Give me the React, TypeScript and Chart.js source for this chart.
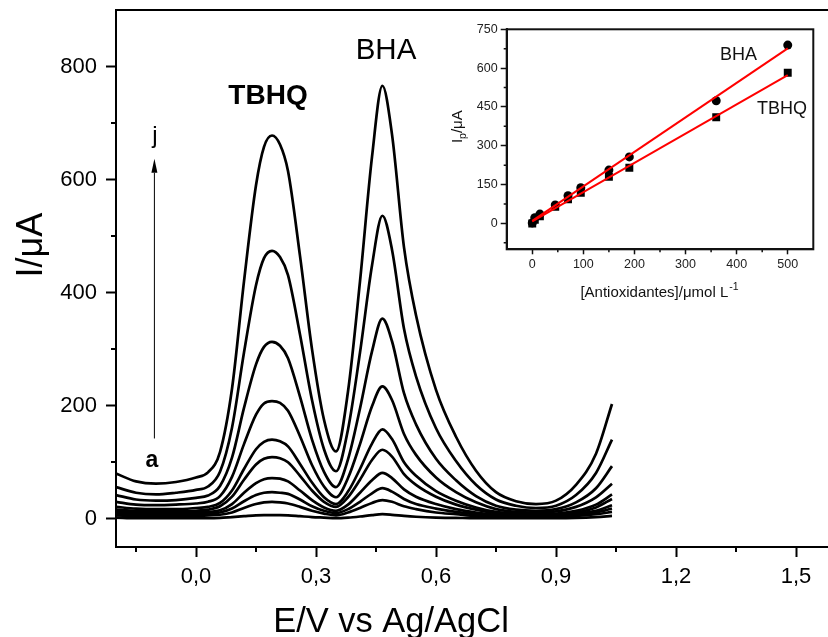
import React, { useEffect, useRef } from 'react';
import { Chart, registerables } from 'chart.js';

Chart.register(...registerables);

// ---------- main voltammograms ----------
const potential = [-0.2, -0.15, -0.1, -0.05, 0, 0.03, 0.06, 0.09, 0.12, 0.15, 0.17, 0.19, 0.21, 0.23, 0.26, 0.29, 0.32, 0.35, 0.38, 0.41, 0.44, 0.466, 0.49, 0.52, 0.55, 0.6, 0.65, 0.7, 0.75, 0.8, 0.85, 0.9, 0.95, 1.0, 1.04];

const curveA = [2, 1, 1, 1, 1, 1, 1.5, 3, 4.5, 6, 6.5, 6.5, 6.5, 6, 4.5, 3, 2, 1, 2, 4, 6.5, 8, 7, 5, 3.5, 2, 1.5, 1, 1, 1, 1, 1, 1.5, 3, 5];
const curveB = [6, 5, 5, 5, 5, 6, 7, 11, 19, 26, 29, 30, 29, 27, 21, 14, 9, 6, 11, 19, 28, 33, 30, 22, 17, 11, 8, 5, 4, 3, 3, 4, 5, 8, 12];
const curveC = [9, 8, 7, 7, 8, 9, 11, 18, 31, 42, 46, 47, 46, 44, 34, 22, 14, 10, 17, 30, 45, 54, 48, 35, 26, 18, 12, 8, 5, 4, 4, 5, 7, 11, 18];
const curveD = [12, 11, 10, 10, 11, 12, 15, 26, 46, 63, 70, 72, 71, 66, 50, 33, 20, 14, 25, 46, 68, 81, 72, 52, 39, 26, 17, 11, 7, 5, 5, 6, 9, 14, 24];
const curveE = [16, 14, 13, 13, 14, 16, 22, 39, 69, 96, 106, 109, 107, 100, 76, 50, 30, 21, 38, 69, 104, 122, 110, 79, 60, 39, 25, 16, 10, 7, 6, 7, 11, 20, 35];
const curveF = [21, 18, 17, 17, 19, 21, 28, 50, 88, 123, 136, 140, 137, 128, 97, 64, 38, 26, 48, 88, 133, 158, 141, 100, 76, 49, 32, 20, 12, 9, 8, 9, 14, 25, 43];
const curveG = [30, 25, 24, 25, 27, 30, 40, 74, 132, 184, 204, 208, 205, 191, 146, 95, 57, 38, 72, 132, 199, 234, 210, 150, 113, 73, 47, 29, 17, 12, 11, 13, 21, 38, 62];
const curveH = [42, 34, 32, 33, 37, 41, 58, 108, 196, 273, 304, 313, 306, 284, 216, 140, 83, 56, 105, 195, 296, 354, 314, 222, 167, 106, 68, 40, 23, 16, 14, 17, 29, 54, 93];
const curveI = [56, 46, 43, 46, 51, 57, 83, 161, 294, 413, 461, 474, 463, 431, 326, 210, 123, 84, 158, 294, 448, 536, 476, 336, 252, 160, 102, 60, 34, 23, 19, 23, 42, 81, 140];
const curveJ = [80, 66, 62, 65, 73, 82, 118, 230, 420, 590, 658, 678, 662, 615, 465, 300, 175, 119, 225, 420, 640, 766, 680, 480, 360, 228, 145, 85, 47, 31, 26, 32, 60, 115, 203];

const curves = [curveA, curveB, curveC, curveD, curveE, curveF, curveG, curveH, curveI, curveJ];

const xTicks = [0, 0.3, 0.6, 0.9, 1.2, 1.5];
const xMinorTicks = [-0.15, 0.15, 0.45, 0.75, 1.05, 1.35];
const yTicks = [0, 200, 400, 600, 800];
const yMinorTicks = [100, 300, 500, 700];

// ---------- inset calibration ----------
const concentration = [0, 5, 15, 45, 70, 95, 150, 190, 360, 500];
const bhaPeak = [2, 22, 36, 71, 107, 138, 206, 257, 474, 689];
const tbhqPeak = [0, 14, 28, 64, 93, 118, 180, 215, 410, 582];
const fitConcentration = [0, 500];
const bhaFit = [10, 676];
const tbhqFit = [8, 573];

const insetXTicks = [0, 100, 200, 300, 400, 500];
const insetXMinor = [50, 150, 250, 350, 450];
const insetYTicks = [0, 150, 300, 450, 600, 750];
const insetYMinor = [-75, 75, 225, 375, 525, 675];

const FONT = "'Liberation Sans', Arial, Helvetica, sans-serif";

const fmtComma = (v: number) => v.toFixed(1).replace('.', ',');

const noPadX = (h: number) => (s: any) => {
  s.height = h;
  s.paddingLeft = 0;
  s.paddingRight = 0;
  s.paddingTop = 0;
  s.paddingBottom = 0;
};
const noPadY = (w: number) => (s: any) => {
  s.width = w;
  s.paddingLeft = 0;
  s.paddingRight = 0;
  s.paddingTop = 0;
  s.paddingBottom = 0;
};

const mainDecor = {
  id: 'mainDecor',
  afterDraw(chart: any) {
    const { ctx, chartArea: a } = chart;
    const x = chart.scales.x;
    const y = chart.scales.y;
    ctx.save();
    ctx.strokeStyle = '#000';
    ctx.fillStyle = '#000';
    ctx.lineWidth = 2;
    // top frame line
    ctx.beginPath();
    ctx.moveTo(a.left - 1, a.top);
    ctx.lineTo(a.right, a.top);
    ctx.stroke();
    // minor ticks
    ctx.beginPath();
    xMinorTicks.forEach((v) => {
      const px = Math.round(x.getPixelForValue(v));
      ctx.moveTo(px, a.bottom);
      ctx.lineTo(px, a.bottom + 5);
    });
    yMinorTicks.forEach((v) => {
      const py = Math.round(y.getPixelForValue(v));
      ctx.moveTo(a.left, py);
      ctx.lineTo(a.left - 5, py);
    });
    ctx.stroke();

    // arrow a -> j
    const ax = x.getPixelForValue(-0.104);
    const yStart = y.getPixelForValue(142);
    const yTip = y.getPixelForValue(637);
    const yHead = y.getPixelForValue(612);
    ctx.lineWidth = 1;
    ctx.beginPath();
    ctx.moveTo(ax, yStart);
    ctx.lineTo(ax, yHead);
    ctx.stroke();
    ctx.beginPath();
    ctx.moveTo(ax, yTip);
    ctx.lineTo(ax - 3, yHead);
    ctx.lineTo(ax + 3, yHead);
    ctx.closePath();
    ctx.fill();

    ctx.textBaseline = 'alphabetic';
    ctx.textAlign = 'center';
    ctx.font = `bold 28px ${FONT}`;
    ctx.fillText('TBHQ', x.getPixelForValue(0.18), y.getPixelForValue(734));
    ctx.font = `29.5px ${FONT}`;
    ctx.fillText('BHA', x.getPixelForValue(0.475), y.getPixelForValue(814));
    ctx.font = `24px ${FONT}`;
    ctx.fillText('j', x.getPixelForValue(-0.1025), y.getPixelForValue(664));
    ctx.font = `bold 23px ${FONT}`;
    ctx.fillText('a', x.getPixelForValue(-0.11), y.getPixelForValue(91));

    // axis titles
    ctx.font = `35px ${FONT}`;
    ctx.save();
    ctx.translate(391, 632);
    ctx.scale(0.985, 1);
    ctx.fillText('E/V vs Ag/AgCl', 0, 0);
    ctx.restore();
    ctx.save();
    ctx.translate(42, 245);
    ctx.rotate(-Math.PI / 2);
    ctx.font = `36px ${FONT}`;
    ctx.fillText('I/\u03bcA', 0, 0);
    ctx.restore();
    ctx.restore();
  },
};

const insetDecor = {
  id: 'insetDecor',
  afterDraw(chart: any) {
    const { ctx, chartArea: a } = chart;
    const x = chart.scales.x;
    const y = chart.scales.y;
    ctx.save();
    ctx.strokeStyle = '#111';
    ctx.fillStyle = '#111';
    ctx.lineWidth = 2;
    ctx.strokeRect(a.left, a.top, a.right - a.left, a.bottom - a.top);
    ctx.lineWidth = 1.5;
    ctx.beginPath();
    insetXMinor.forEach((v) => {
      const px = x.getPixelForValue(v);
      ctx.moveTo(px, a.bottom);
      ctx.lineTo(px, a.bottom + 3);
    });
    insetYMinor.forEach((v) => {
      const py = y.getPixelForValue(v);
      ctx.moveTo(a.left, py);
      ctx.lineTo(a.left - 3, py);
    });
    ctx.stroke();

    ctx.textBaseline = 'alphabetic';
    ctx.textAlign = 'left';
    ctx.font = `18px ${FONT}`;
    ctx.fillText('BHA', 280, 45);
    ctx.fillText('TBHQ', 317, 98.5);

    // x title
    const main = '[Antioxidantes]/\u03bcmol L';
    ctx.font = `15px ${FONT}`;
    const w1 = ctx.measureText(main).width;
    ctx.font = `10.5px ${FONT}`;
    const w2 = ctx.measureText('-1').width;
    const startX = 219 - (w1 + w2) / 2;
    ctx.font = `15px ${FONT}`;
    ctx.fillText(main, startX, 281.7);
    ctx.font = `10.5px ${FONT}`;
    ctx.fillText('-1', startX + w1 + 1, 275);

    // y title (rotated)
    ctx.save();
    ctx.translate(22, 111.7);
    ctx.rotate(-Math.PI / 2);
    ctx.font = `15px ${FONT}`;
    const wI = ctx.measureText('I').width;
    const wRest = ctx.measureText('/\u03bcA').width;
    ctx.font = `10.5px ${FONT}`;
    const wp = ctx.measureText('p').width;
    const sx = -(wI + wp + wRest) / 2;
    ctx.font = `15px ${FONT}`;
    ctx.fillText('I', sx, 0);
    ctx.font = `10.5px ${FONT}`;
    ctx.fillText('p', sx + wI, 4);
    ctx.font = `15px ${FONT}`;
    ctx.fillText('/\u03bcA', sx + wI + wp, 0);
    ctx.restore();
    ctx.restore();
  },
};

export default function App() {
  const mainRef = useRef<HTMLCanvasElement>(null);
  const insetRef = useRef<HTMLCanvasElement>(null);

  useEffect(() => {
    const datasets = curves.map((c) => ({
      data: potential.map((p, i) => ({ x: p, y: c[i] })),
      showLine: true,
      borderColor: '#000',
      borderWidth: 2.7,
      pointRadius: 0,
      cubicInterpolationMode: 'monotone' as const,
      fill: false,
    }));

    const mainChart = new Chart(mainRef.current!, {
      type: 'scatter',
      data: { datasets },
      options: {
        responsive: false,
        animation: false,
        devicePixelRatio: 1,
        layout: { padding: { top: 10, right: 0, left: 0, bottom: 0 } },
        plugins: { legend: { display: false }, tooltip: { enabled: false } },
        scales: {
          x: {
            type: 'linear',
            min: -0.2,
            max: 1.58,
            afterFit: noPadX(90),
            afterBuildTicks: (s: any) => { s.ticks = xTicks.map((v) => ({ value: v })); },
            border: { display: true, color: '#000', width: 2 },
            grid: { display: true, drawOnChartArea: false, drawTicks: true, tickLength: 10, tickWidth: 2, tickColor: '#000' },
            ticks: {
              color: '#000',
              font: { family: FONT, size: 22 },
              padding: 7,
              maxRotation: 0,
              autoSkip: false,
              callback: (v: any) => fmtComma(Number(v)),
            },
          },
          y: {
            type: 'linear',
            min: -50,
            max: 900,
            afterFit: noPadY(116),
            afterBuildTicks: (s: any) => { s.ticks = yTicks.map((v) => ({ value: v })); },
            border: { display: true, color: '#000', width: 2 },
            grid: { display: true, drawOnChartArea: false, drawTicks: true, tickLength: 10, tickWidth: 2, tickColor: '#000' },
            ticks: {
              color: '#000',
              font: { family: FONT, size: 22 },
              padding: 9,
              autoSkip: false,
              callback: (v: any) => String(v),
            },
          },
        },
      },
      plugins: [mainDecor],
    });

    const insetChart = new Chart(insetRef.current!, {
      type: 'scatter',
      data: {
        datasets: [
          {
            data: fitConcentration.map((c, i) => ({ x: c, y: bhaFit[i] })),
            showLine: true,
            borderColor: '#ff0000',
            borderWidth: 2,
            pointRadius: 0,
          },
          {
            data: fitConcentration.map((c, i) => ({ x: c, y: tbhqFit[i] })),
            showLine: true,
            borderColor: '#ff0000',
            borderWidth: 2,
            pointRadius: 0,
          },
          {
            data: concentration.map((c, i) => ({ x: c, y: bhaPeak[i] })),
            pointStyle: 'circle',
            pointRadius: 4.5,
            backgroundColor: '#000',
            borderColor: '#000',
            borderWidth: 0,
          },
          {
            data: concentration.map((c, i) => ({ x: c, y: tbhqPeak[i] })),
            pointStyle: 'rect',
            pointRadius: 5.6,
            backgroundColor: '#000',
            borderColor: '#000',
            borderWidth: 0,
          },
        ],
      },
      options: {
        responsive: false,
        animation: false,
        devicePixelRatio: 1,
        layout: { padding: { top: 14.3, right: 6.7, left: 0, bottom: 0 } },
        plugins: { legend: { display: false }, tooltip: { enabled: false } },
        scales: {
          x: {
            type: 'linear',
            min: -50,
            max: 550,
            afterFit: noPadX(65.7),
            afterBuildTicks: (s: any) => { s.ticks = insetXTicks.map((v) => ({ value: v })); },
            border: { display: true, color: '#111', width: 2 },
            grid: { display: true, drawOnChartArea: false, drawTicks: true, tickLength: 5, tickWidth: 1.5, tickColor: '#111' },
            ticks: {
              color: '#222',
              font: { family: FONT, size: 12.5 },
              padding: 3,
              maxRotation: 0,
              autoSkip: false,
            },
          },
          y: {
            type: 'linear',
            min: -100,
            max: 750,
            afterFit: noPadY(66.7),
            afterBuildTicks: (s: any) => { s.ticks = insetYTicks.map((v) => ({ value: v })); },
            border: { display: true, color: '#111', width: 2 },
            grid: { display: true, drawOnChartArea: false, drawTicks: true, tickLength: 6, tickWidth: 1.5, tickColor: '#111' },
            ticks: {
              color: '#222',
              font: { family: FONT, size: 12.5 },
              padding: 3,
              autoSkip: false,
            },
          },
        },
      },
      plugins: [insetDecor],
    });

    return () => {
      mainChart.destroy();
      insetChart.destroy();
    };
  }, []);

  return (
    <div style={{ position: 'absolute', left: 0, top: 0, width: 828, height: 637, background: '#fff', overflow: 'hidden' }}>
      <canvas ref={mainRef} width={828} height={637} style={{ position: 'absolute', left: 0, top: 0, width: 828, height: 637 }} />
      <canvas ref={insetRef} width={380} height={300} style={{ position: 'absolute', left: 440, top: 15, width: 380, height: 300 }} />
    </div>
  );
}
